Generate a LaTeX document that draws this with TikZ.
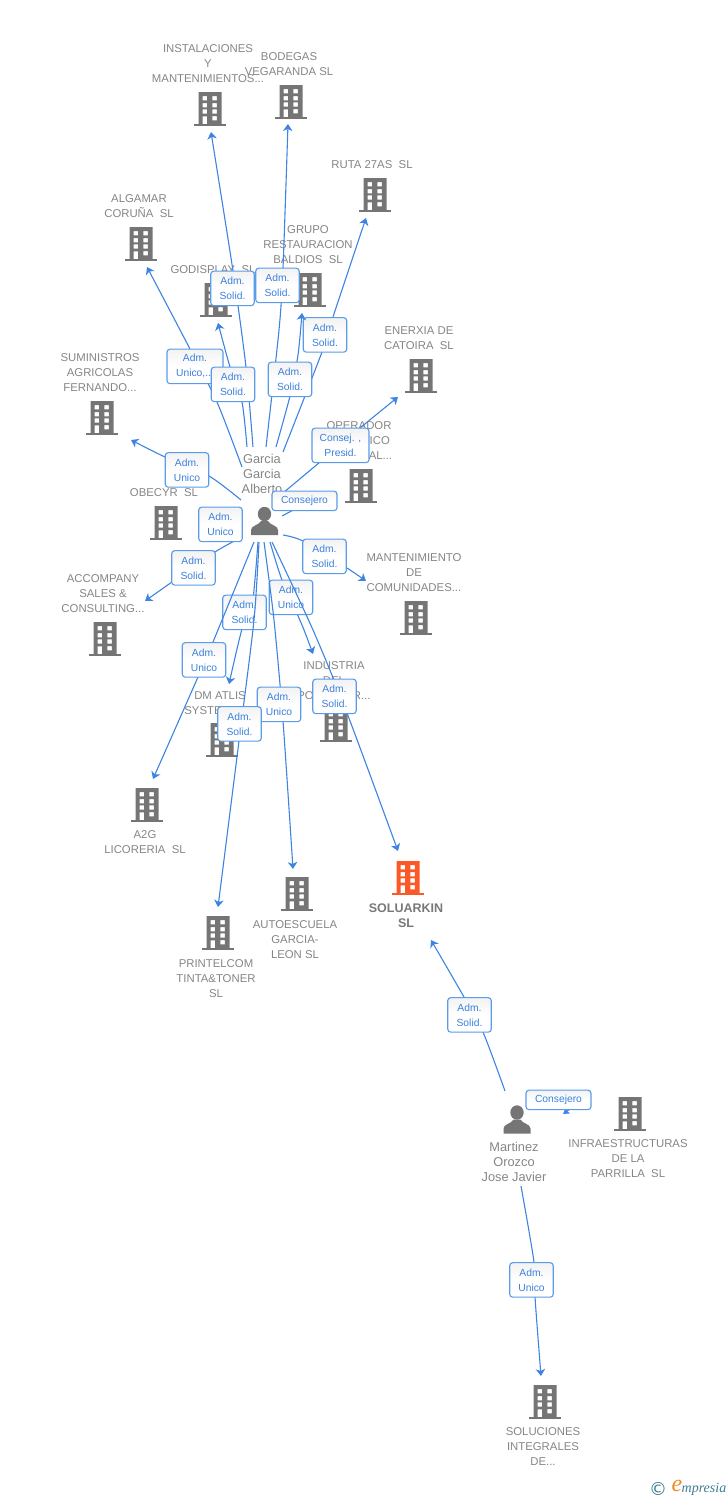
\documentclass[tikz,border=0pt]{standalone}
\usepackage{fontspec}
\setmainfont{Liberation Sans}
\newfontfamily\logofont{Liberation Serif}
\newfontfamily\symfont{DejaVu Sans}
\usetikzlibrary{arrows.meta}
\definecolor{edgeblue}{HTML}{3D84E2}
\definecolor{boxblue}{HTML}{5A9BEA}
\definecolor{labblue}{HTML}{3B80DC}
\definecolor{txtgrey}{HTML}{858585}
\definecolor{icongrey}{HTML}{757575}
\definecolor{hot}{HTML}{FB5A28}
\definecolor{logoteal}{HTML}{3E7C93}
\definecolor{logoorange}{HTML}{F08A24}
\newcommand{\bldshape}{%
  \begin{scope}[shift={(path picture bounding box.center)}]
    \fill[even odd rule] (-11.5,-17) rectangle (11.5,15.2)
      (-7.5,-13) rectangle (-3,-8.7) (2.3,-13) rectangle (6.8,-8.7)
      (-7.5,-6) rectangle (-3,-1.7) (2.3,-6) rectangle (6.8,-1.7)
      (-7.5,0.3) rectangle (-3,4.7) (2.3,0.3) rectangle (6.8,4.7)
      (-7.5,7.3) rectangle (-3,15.2) (2.3,7) rectangle (6.8,11.3);
    \fill (-16,15) rectangle (16,17);
  \end{scope}}
\tikzset{
  bld/.style={minimum width=32,minimum height=34,inner sep=0,icongrey,path picture={\bldshape}},
  bldhot/.style={minimum width=32,minimum height=34,inner sep=0,hot,path picture={\bldshape}},
  person/.style={minimum width=27,minimum height=28,inner sep=0,path picture={
    \begin{scope}[shift={(path picture bounding box.center)}]
      \fill[icongrey] (0,-7) ellipse (6.7 and 7.2);
      \fill[icongrey] (-13.5,14) -- (-13.5,9) .. controls (-13.5,4.5) and (-6,4.5) .. (-3.5,0)
        -- (3.5,0) .. controls (6,4.5) and (13.5,4.5) .. (13.5,9) -- (13.5,14) -- cycle;
    \end{scope}}},
  txt/.style={align=center,inner sep=0,yshift=-1pt,text=txtgrey,font=\fontsize{11.35}{15}\selectfont},
  ptxt/.style={align=center,inner sep=0,yshift=-1pt,text=txtgrey,font=\fontsize{12.8}{15}\selectfont},
  hottxt/.style={align=center,inner sep=0,yshift=-1pt,text=txtgrey!90!black,font=\fontsize{12.5}{15}\selectfont\bfseries},
  conn/.style={draw=edgeblue,line width=1.1pt,-{Stealth[length=7pt,width=9.5pt,inset=2pt]}},
  plain/.style={draw=edgeblue,line width=1.1pt},
  lab/.style={draw=boxblue,line width=1.1pt,rounded corners=3pt,top color=black!5,bottom color=white,middle color=white,
    minimum width=43.5,minimum height=34.5,inner sep=0,yshift=-0.4pt,align=center,text=labblue,font=\fontsize{10.3}{15}\selectfont},
  labw/.style={lab,minimum width=57},
  labu/.style={lab,minimum width=56},
  labc/.style={lab,minimum width=65,minimum height=19.5},
}
% name, start, entry, exit, tip, box centre, box style, box text
\newcommand{\conn}[8]{%
  \coordinate (#1s) at (#2); \coordinate (#1a) at (#3); \coordinate (#1b) at (#4); \coordinate (#1t) at (#5);
  \draw[conn] plot[smooth,tension=.45] coordinates {(#1s) (#1a) (#1b) (#1t)};
  \node[#7] (#1) at (#6) {#8};}
\begin{document}
\begin{tikzpicture}[x=1pt,y=-1pt]
\useasboundingbox (0,0) rectangle (728,1500);
% buildings
\node[bld] (b1) at (210,109) {};
\node[bld] (b2) at (291,102) {};
\node[bld] (b3) at (375,195) {};
\node[bld] (b4) at (141,244) {};
\node[bld] (b5) at (216,300) {};
\node[bld] (b6) at (310,290) {};
\node[bld] (b7) at (421,376) {};
\node[bld] (b8) at (361,486) {};
\node[bld] (b9) at (102,418) {};
\node[bld] (b10) at (166,523) {};
\node[bld] (b11) at (105,639) {};
\node[bld] (b12) at (416,618) {};
\node[bld] (b13) at (336,725) {};
\node[bld] (b14) at (222,740) {};
\node[bld] (b15) at (147,805) {};
\node[bld] (b16) at (297,894) {};
\node[bldhot] (b17) at (408,878) {};
\node[bld] (b18) at (218,933) {};
\node[bld] (b19) at (630,1114) {};
\node[bld] (b20) at (545,1402) {};
% persons
\node[person] (p1) at (264.5,521) {};
\node[person] (p2) at (517,1119.5) {};
% captions
\node[txt] (t1) at (208,63) {INSTALACIONES\\Y\\MANTENIMIENTOS...};
\node[txt] (t2) at (289,63.5) {BODEGAS\\VEGARANDA SL};
\node[txt] (t3) at (372,164) {RUTA 27AS~ SL};
\node[txt] (t4) at (139,205.5) {ALGAMAR\\CORUÑA~ SL};
\node[txt] (t5) at (213,269) {GODISPLAY~ SL};
\node[txt] (t6) at (308,244) {GRUPO\\RESTAURACION\\BALDIOS~ SL};
\node[txt] (t7) at (419,337.5) {ENERXIA DE\\CATOIRA~ SL};
\node[txt] (t8) at (359,440) {OPERADOR\\LOGISTICO\\INTEGRAL...};
\node[txt] (t9) at (100,372) {SUMINISTROS\\AGRICOLAS\\FERNANDO...};
\node[txt] (t10) at (164,492) {OBECYR~ SL};
\node[txt] (t11) at (103,593) {ACCOMPANY\\SALES \&\\CONSULTING...};
\node[txt] (t12) at (414,572) {MANTENIMIENTO\\DE\\COMUNIDADES...};
\node[txt] (t13) at (334,680) {INDUSTRIA\\DEL\\POLIESTER...};
\node[txt] (t14) at (220,702.5) {DM ATLIS\\SYSTEMS SL};
\node[txt] (t15) at (145,841.5) {A2G\\LICORERIA~ SL};
\node[txt] (t16) at (295,939) {AUTOESCUELA\\GARCIA-\\LEON SL};
\node[hottxt] (t17) at (406,914.5) {SOLUARKIN\\SL};
\node[txt] (t18) at (216,978) {PRINTELCOM\\TINTA\&TONER\\SL};
\node[txt] (t19) at (628,1158) {INFRAESTRUCTURAS\\DE LA\\PARRILLA~ SL};
\node[txt] (t20) at (543,1446) {SOLUCIONES\\INTEGRALES\\DE...};
\node[ptxt] (t21) at (262,473) {Garcia\\Garcia\\Alberto};
\node[ptxt] (t22) at (514,1161) {Martinez\\Orozco\\Jose Javier};
% upper fan
\conn{e1}{253,447}{246,367}{233,271}{211,132}{232.5,288}{lab}{Adm.\\Solid.}
\conn{e2}{266,447}{279,330}{283,268}{288,124}{277.5,285}{lab}{Adm.\\Solid.}
\conn{e3}{283,452}{322,352}{333,317}{366,218}{325,334.5}{lab}{Adm.\\Solid.}
\conn{e4}{242,467}{217,402}{190,349}{147,267}{195,366}{labu}{Adm.\\Unico,...}
\conn{e5}{247,447}{242,402}{230,367}{218,323}{233,384}{lab}{Adm.\\Solid.}
\conn{e6}{276,447}{290,396}{298,355}{302,313}{290,379}{lab}{Adm.\\Solid.}
\conn{e7}{283,493}{320,462}{360,428}{398,397}{340.5,445}{labw}{Consej. ,\\Presid.}
\conn{e8}{241,500}{209,476}{165,457}{131,440}{187,469.5}{lab}{Adm.\\Unico}
% consejero towards OPERADOR: its tip lies under the box
\coordinate (e9s) at (282,516);
\draw[plain] (e9s) -- (297,508);
\node[labc] (e9) at (304.5,500.5) {Consejero};
\conn{e11}{240,538}{215,552}{172,582}{145,601}{193.5,567.5}{lab}{Adm.\\Solid.}
\node[lab] (e10) at (220.5,524) {Adm.\\Unico};
\conn{e12}{283,535}{303,541}{347,568}{366,581}{324.5,556}{lab}{Adm.\\Solid.}
% lower fan
\conn{e13}{270,542}{282,580}{302,625}{313,654}{291,597}{lab}{Adm.\\Unico}
\conn{e14}{258,542}{252,607}{242,629}{229,684}{244.5,612}{lab}{Adm.\\Solid.}
\conn{e15}{254,542}{213,642}{198,677}{153,779}{204,659.5}{lab}{Adm.\\Unico}
\conn{e16}{264,542}{274,620}{283,721}{293,869}{279,704}{lab}{Adm.\\Unico}
\conn{e17}{259,542}{254,620}{239,741}{218,907}{239.5,723.5}{lab}{Adm.\\Solid.}
\conn{e18}{272,542}{313,630}{347,713}{398,851}{334.5,696}{lab}{Adm.\\Solid.}
% Martinez
\conn{e19}{505,1091}{483,1032}{464,997}{431,940}{469.5,1014.5}{lab}{Adm.\\Solid.}
\coordinate (e20s) at (570,1109); \coordinate (e20t) at (563,1114);
\draw[conn,-{Stealth[length=6pt,width=7pt,inset=1pt]}] (e20s) -- (e20t);
\node[labc] (e20) at (558.5,1099.5) {Consejero};
\conn{e21}{521,1186}{534,1262}{535,1297}{541,1376}{531.5,1279.5}{lab}{Adm.\\Unico}
% logo
\node[inner sep=0,text=logoteal,font=\symfont\fontsize{18}{18}\selectfont] (l1) at (658,1488.5) {©};
\node[inner sep=0,text=logoorange,font=\logofont\itshape\fontsize{24}{24}\selectfont] (l2) at (677,1486) {e};
\node[inner sep=0,text=logoteal,font=\logofont\itshape\fontsize{14}{14}\selectfont] (l3) at (704,1489) {mpresia};
\end{tikzpicture}
\end{document}
